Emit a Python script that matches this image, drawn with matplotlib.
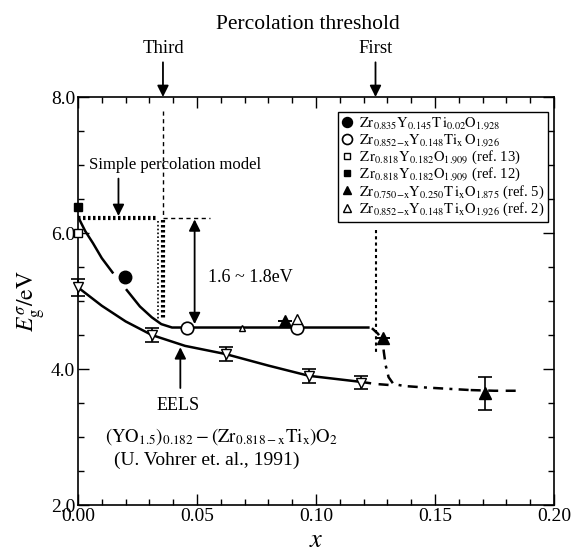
import matplotlib
matplotlib.use("Agg")
import matplotlib.pyplot as plt
from matplotlib.ticker import MultipleLocator, FormatStrFormatter

plt.rcParams['font.family'] = ['Liberation Serif', 'DejaVu Serif']
plt.rcParams['mathtext.fontset'] = 'stix'

# ---------------- data ----------------
# filled circle: Zr0.835Y0.145Ti0.02O1.928
fc_x = [0.0197]
fc_y = [5.35]
# open circle: Zr0.852-xY0.148TixO1.926
oc_x = [0.046, 0.092]
oc_y = [4.61, 4.61]
# open square (ref. 13)
osq_x = [0.0]
osq_y = [6.0]
# filled square (ref. 12)
fsq_x = [0.0]
fsq_y = [6.38]
# filled triangle (ref. 5)
ft_x = [0.087, 0.128, 0.171]
ft_y = [4.70, 4.45, 3.65]
ft_err_lo = [0.0, 0.0, 0.25]
ft_err_hi = [0.0, 0.0, 0.23]
# open triangle (ref. 2)
ot_x = [0.069, 0.092]
ot_y = [4.61, 4.73]
ot_size = [5, 7]
# EELS (open down triangles)
eels_x = [0.0, 0.031, 0.062, 0.097, 0.119]
eels_y = [5.20, 4.50, 4.22, 3.90, 3.80]
eels_err = [0.12, 0.10, 0.10, 0.10, 0.10]

# guide curves
curveA_x = [0.0, 0.003, 0.0063, 0.010, 0.0145]
curveA_y = [6.24, 6.03, 5.85, 5.63, 5.42]
curveB_x = [0.0205, 0.026, 0.031, 0.035, 0.0395, 0.122]
curveB_y = [5.16, 4.92, 4.76, 4.66, 4.61, 4.61]
eels_curve_x = [0.0, 0.01, 0.02, 0.031, 0.045, 0.062, 0.08, 0.097, 0.119]
eels_curve_y = [5.20, 4.93, 4.70, 4.50, 4.34, 4.22, 4.05, 3.90, 3.81]
dashdot_x = [0.1235, 0.126, 0.128, 0.1285, 0.1293, 0.1305, 0.1325, 0.137, 0.145, 0.155, 0.165]
dashdot_y = [4.60, 4.52, 4.42, 4.25, 4.05, 3.88, 3.78, 3.75, 3.73, 3.71, 3.69]
eels_ext_x = [0.119, 0.125, 0.1325]
eels_ext_y = [3.81, 3.78, 3.76]
tail_x = [0.165, 0.175, 0.186]
tail_y = [3.69, 3.68, 3.68]

# thresholds / model
third_x = 0.0357
first_x = 0.125
model_level = 6.22
flat_level = 4.72

legend_labels = [
    r'$\mathrm{Zr_{0.835}Y_{0.145}T\,i_{0.02}O_{1.928}}$',
    r'$\mathrm{Zr_{0.852{-}x}Y_{0.148}Ti_{x}\,O_{1.926}}$',
    r'$\mathrm{Z\,r_{0.818}Y_{0.182}O_{1.909}}$ (ref. 13)',
    r'$\mathrm{Z\,r_{0.818}Y_{0.182}O_{1.909}}$ (ref. 12)',
    r'$\mathrm{Zr_{0.750{-}x}Y_{0.250}T\,i_{x}O_{1.875}}$ (ref. 5)',
    r'$\mathrm{Zr_{0.852{-}x}Y_{0.148}T\,i_{x}O_{1.926}}$ (ref. 2)',
]

# ---------------- figure ----------------
fig = plt.figure(figsize=(5.72, 5.53), dpi=100)
ax = fig.add_axes([78/572, 1-505/553, 476/572, 408/553])
ax.set_xlim(0.0, 0.20)
ax.set_ylim(2.0, 8.0)

lw = 1.8
ax.plot(curveA_x, curveA_y, color='k', lw=lw, zorder=2)
ax.plot(curveB_x, curveB_y, color='k', lw=lw, zorder=2)
ax.plot(eels_curve_x, eels_curve_y, color='k', lw=lw, zorder=2)
ax.plot(dashdot_x, dashdot_y, color='k', lw=lw, dashes=(4, 2.5, 1.2, 2.5), zorder=2)
ax.plot(eels_ext_x, eels_ext_y, color='k', lw=lw, dashes=(4, 3), zorder=2)
ax.plot(tail_x, tail_y, color='k', lw=lw, dashes=(4, 3), zorder=2)

# percolation model lines
ax.plot([0.0, third_x - 0.002], [model_level, model_level], color='k', lw=3.0,
        dashes=(0.6, 0.6), zorder=2)
ax.plot([third_x, third_x], [model_level - 0.03, flat_level], color='k', lw=3.0,
        dashes=(0.6, 0.6), zorder=2)
ax.plot([third_x - 0.0021, third_x - 0.0021], [model_level - 0.05, flat_level],
        color='k', lw=1.2, dashes=(1, 1.3), zorder=2)
ax.plot([third_x, third_x], [7.8, model_level], color='k', lw=1.0, dashes=(3, 2.5), zorder=2)
ax.plot([third_x, 0.0555], [model_level, model_level], color='k', lw=1.0,
        dashes=(3, 2.5), zorder=2)
ax.plot([first_x, first_x], [6.05, 4.2], color='k', lw=1.5, dashes=(1.5, 1.5), zorder=2)

# markers
h1, = ax.plot(fc_x, fc_y, 'o', ms=9, mfc='k', mec='k', ls='none', zorder=4)
h2, = ax.plot(oc_x, oc_y, 'o', ms=9, mfc='white', mec='k', mew=1.2, ls='none', zorder=4)
h3, = ax.plot(osq_x, osq_y, 's', ms=6, mfc='white', mec='k', mew=1.0, ls='none',
              zorder=4, clip_on=False)
h4, = ax.plot(fsq_x, fsq_y, 's', ms=6, mfc='k', mec='k', ls='none', zorder=4, clip_on=False)
ax.errorbar(ft_x, ft_y, yerr=[ft_err_lo, ft_err_hi], fmt='none', ecolor='k',
            elinewidth=1.2, capsize=5, capthick=1.2, zorder=3)
h5, = ax.plot(ft_x, ft_y, '^', ms=8, mfc='k', mec='k', ls='none', zorder=4)
for xx, yy, ss in zip(ot_x, ot_y, ot_size):
    h6, = ax.plot([xx], [yy], '^', ms=ss, mfc='white', mec='k', mew=1.0, ls='none', zorder=5)
ax.errorbar(eels_x, eels_y, yerr=eels_err, fmt='none', ecolor='k', elinewidth=1.2,
            capsize=5, capthick=1.2, zorder=3, clip_on=False)
ax.plot(eels_x, eels_y, 'v', ms=7, mfc='white', mec='k', mew=1.0, ls='none', zorder=4,
        clip_on=False)

# legend
leg = ax.legend([h1, h2, h3, h4, h5, h6], legend_labels, loc='upper right',
                bbox_to_anchor=(0.988, 0.963), frameon=True, fancybox=False,
                edgecolor='k', framealpha=1, fontsize=10.5, handlelength=0.7,
                handletextpad=0.5, borderpad=0.25, labelspacing=0.0,
                borderaxespad=0, markerscale=0.8)
leg.get_frame().set_linewidth(1.0)

# annotations
arrow = dict(arrowstyle='-|>', mutation_scale=17, lw=1.3, color='k', shrinkA=0, shrinkB=0)
ax.annotate('', xy=(0.017, 6.25), xytext=(0.017, 6.8), arrowprops=arrow)
ax.text(0.0045, 7.0, 'Simple percolation model', fontsize=12, ha='left', va='center')
ax.annotate('', xy=(0.043, 4.32), xytext=(0.043, 3.72), arrowprops=arrow)
ax.text(0.042, 3.46, 'EELS', fontsize=13, ha='center', va='center')
ax.text(0.0605, 3.0,
        r'$\left(\mathrm{YO_{1.5}}\right)_{0.182}-\left(\mathrm{Zr_{0.818-x}Ti_x}\right)\mathrm{O_2}$',
        fontsize=13.5, ha='center', va='center')
ax.text(0.054, 2.65, '(U. Vohrer et. al., 1991)', fontsize=14, ha='center', va='center')
dbl = dict(arrowstyle='<|-|>', mutation_scale=17, lw=1.3, color='k', shrinkA=0, shrinkB=0)
ax.annotate('', xy=(0.049, 4.66), xytext=(0.049, 6.2), arrowprops=dbl)
ax.text(0.0545, 5.34, r'1.6 ~ 1.8eV', fontsize=13, ha='left', va='center')

# threshold arrows above the axes
tr = ax.get_xaxis_transform()
for xx, lab in [(third_x, 'Third'), (first_x, 'First')]:
    ax.annotate('', xy=(xx, 1.0), xytext=(xx, 1.085), xycoords=tr, textcoords=tr,
                arrowprops=arrow, annotation_clip=False)
    ax.text(xx, 1.12, lab, transform=tr, fontsize=13.5, ha='center', va='center')
ax.text(0.0965, 1.178, 'Percolation threshold', transform=tr, fontsize=15.5,
        ha='center', va='center')

# axes styling
ax.xaxis.set_major_locator(MultipleLocator(0.05))
ax.xaxis.set_minor_locator(MultipleLocator(0.01))
ax.yaxis.set_major_locator(MultipleLocator(2.0))
ax.yaxis.set_minor_locator(MultipleLocator(0.5))
ax.xaxis.set_major_formatter(FormatStrFormatter('%.2f'))
ax.yaxis.set_major_formatter(FormatStrFormatter('%.1f'))
ax.tick_params(which='both', direction='in', top=True, right=True, width=1.0,
               labelsize=14, pad=2)
ax.tick_params(which='major', length=8)
ax.tick_params(which='minor', length=4)
for s in ax.spines.values():
    s.set_linewidth(1.2)
fig.text((78 + 238) / 572, 1 - 541 / 553, r'$x$', fontsize=19, ha='center', va='center')
ax.set_ylabel(r'$E_{\mathrm{g}}^{\sigma}/\mathrm{eV}$', fontsize=17, labelpad=2)

fig.savefig('out.png', dpi=100)
